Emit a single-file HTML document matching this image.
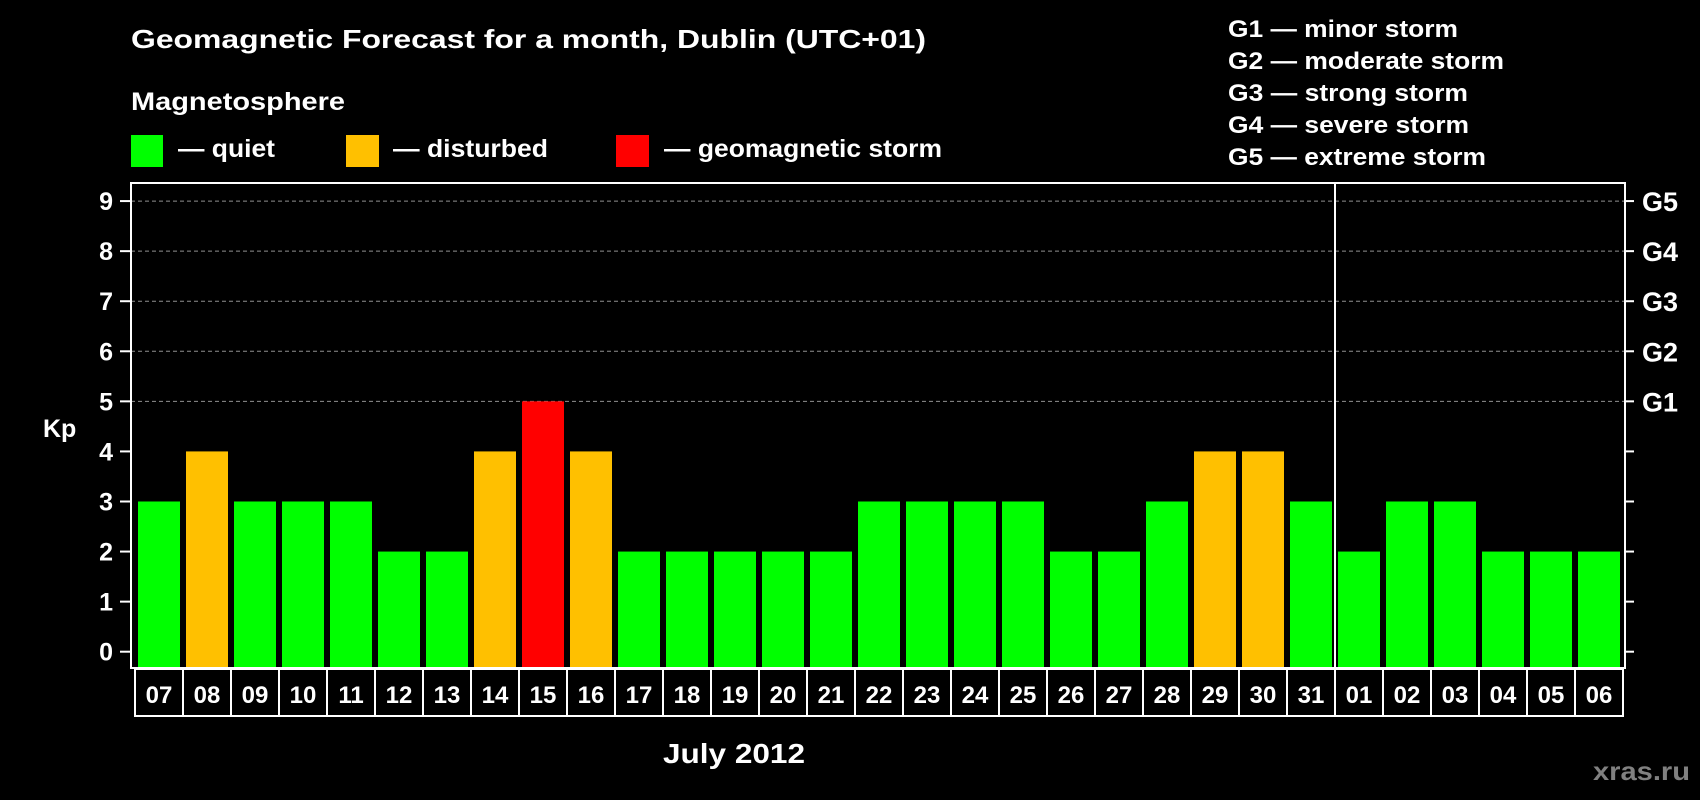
<!DOCTYPE html>
<html><head><meta charset="utf-8"><style>
html,body{margin:0;padding:0;background:#000;}
svg{display:block;font-family:"Liberation Sans",Arial,sans-serif;font-weight:bold;}
</style></head><body>
<svg id="chart" width="1700" height="800" viewBox="0 0 1700 800">
<rect x="0" y="0" width="1700" height="800" fill="#000"/>
<text x="131" y="48" font-size="26" fill="#fff" textLength="795" lengthAdjust="spacingAndGlyphs">Geomagnetic Forecast for a month, Dublin (UTC+01)</text>
<text x="131" y="110" font-size="25" fill="#fff" textLength="214" lengthAdjust="spacingAndGlyphs">Magnetosphere</text>
<g>
<rect x="131" y="135" width="32" height="32" fill="#00ff00"/>
<text x="178" y="157" font-size="25" fill="#fff" textLength="97" lengthAdjust="spacingAndGlyphs">— quiet</text>
</g>
<g>
<rect x="346" y="135" width="33" height="32" fill="#ffc000"/>
<text x="393" y="157" font-size="25" fill="#fff" textLength="155" lengthAdjust="spacingAndGlyphs">— disturbed</text>
</g>
<g>
<rect x="616" y="135" width="33" height="32" fill="#ff0000"/>
<text x="664" y="157" font-size="25" fill="#fff" textLength="278" lengthAdjust="spacingAndGlyphs">— geomagnetic storm</text>
</g>
<g font-size="24" fill="#fff">
<text x="1228" y="37" textLength="230" lengthAdjust="spacingAndGlyphs">G1 — minor storm</text>
<text x="1228" y="69" textLength="276" lengthAdjust="spacingAndGlyphs">G2 — moderate storm</text>
<text x="1228" y="101" textLength="240" lengthAdjust="spacingAndGlyphs">G3 — strong storm</text>
<text x="1228" y="133" textLength="241" lengthAdjust="spacingAndGlyphs">G4 — severe storm</text>
<text x="1228" y="165" textLength="258" lengthAdjust="spacingAndGlyphs">G5 — extreme storm</text>
</g>
<text x="43" y="437" font-size="25" fill="#fff">Kp</text>
<text x="663" y="763" font-size="28" fill="#fff" textLength="142" lengthAdjust="spacingAndGlyphs">July 2012</text>
<text x="1593" y="780" font-size="26" fill="#808080" textLength="97" lengthAdjust="spacingAndGlyphs">xras.ru</text>
<g id="plot"></g>
</svg>
<script>
const days = ["07","08","09","10","11","12","13","14","15","16","17","18","19","20","21","22","23","24","25","26","27","28","29","30","31","01","02","03","04","05","06"];
const kp = [3,4,3,3,3,2,2,4,5,4,2,2,2,2,2,3,3,3,3,2,2,3,4,4,3,2,3,3,2,2,2];
const yTicks = [0,1,2,3,4,5,6,7,8,9];
const gLabels = ["G1","G2","G3","G4","G5"];
const gLevels = [5,6,7,8,9];
const monthBreakIndex = 25;

const NS = "http://www.w3.org/2000/svg";
const plot = document.getElementById("plot");
const L = 131, R = 1625, T = 183, B = 668;
const PITCH = 48, BAR0 = 138, BW = 42;
function yScale(v){ return 651.7 - v * 50.07; }
function xScale(i){ return BAR0 + i * PITCH; }
function mk(tag, attrs){ const e = document.createElementNS(NS, tag); for (const k in attrs) e.setAttribute(k, attrs[k]); plot.appendChild(e); return e; }
function color(v){ return v >= 5 ? "#ff0000" : (v >= 4 ? "#ffc000" : "#00ff00"); }

// gridlines
gLevels.forEach(v => {
  const g = mk("line", {x1:L, x2:R, y1:yScale(v), y2:yScale(v), stroke:"#909090", "stroke-width":1, "stroke-dasharray":"4,3"});
  
  
});
// bars
kp.forEach((v, i) => {
  const b = mk("rect", {x:xScale(i), y:yScale(v), width:BW, height:B - yScale(v), fill:color(v)});
  
  
});
// frame
const fr = mk("rect", {x:L, y:T, width:R-L, height:B-T, fill:"none", stroke:"#fff", "stroke-width":2});


// month divider
const dx = xScale(monthBreakIndex) - 3;
const dv = mk("line", {x1:dx, x2:dx, y1:T, y2:B, stroke:"#fff", "stroke-width":2});


// y ticks + labels
yTicks.forEach(v => {
  const y = yScale(v);
  const t1 = mk("line", {x1:120, x2:L, y1:y, y2:y, stroke:"#fff", "stroke-width":2});
  
  
  const t2 = mk("line", {x1:R, x2:1634, y1:y, y2:y, stroke:"#fff", "stroke-width":2});
  
  
  const tx = mk("text", {x:113, y:y + 9, "font-size":25, fill:"#fff", "text-anchor":"end"});
  tx.textContent = String(v);
  
  
});
gLabels.forEach((g, i) => {
  const tx = mk("text", {x:1642, y:yScale(gLevels[i]) + 10, "font-size":27, fill:"#fff"});
  tx.textContent = g;
  
  
});
// day label boxes
const boxL = 135, boxT = 669, boxB = 716;
days.forEach((d, i) => {
  const x0 = boxL + i * PITCH;
  const r = mk("rect", {x:x0, y:boxT, width:PITCH, height:boxB - boxT, fill:"#000", stroke:"#fff", "stroke-width":2});
  
  
  const t = mk("text", {x:x0 + PITCH/2, y:703, "font-size":24, fill:"#fff", "text-anchor":"middle"});
  t.textContent = d;
  
  
});
</script>
</body></html>
